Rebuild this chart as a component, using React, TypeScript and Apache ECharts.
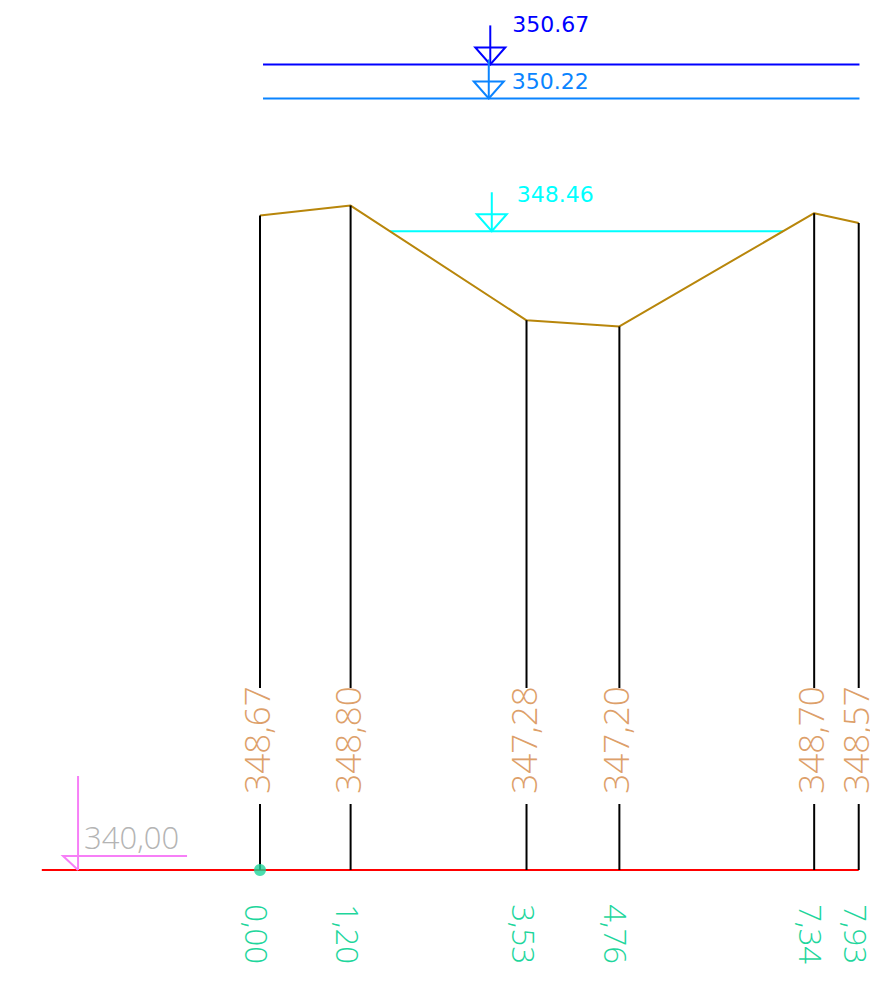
import React, { useEffect, useRef } from "react";
import * as echarts from "echarts";

// ---- Data ----
const stations = [0.0, 1.2, 3.53, 4.76, 7.34, 7.93];
const groundElevations = [348.67, 348.8, 347.28, 347.2, 348.7, 348.57];
const stationLabels = ["0,00", "1,20", "3,53", "4,76", "7,34", "7,93"];
const elevationLabels = ["348,67", "348,80", "347,28", "347,20", "348,70", "348,57"];

const datumElevation = 340.0;
const datumLabel = "340,00";
const datumStart = -2.89;
const datumSymbolStation = -2.41;

const waterLevels = [350.67, 350.22, 348.46];
const waterLabels = ["350.67", "350.22", "348.46"];
const waterColors = ["#0000ff", "#0a84ff", "#00ffff"];
const waterSymbolStations = [3.05, 3.03, 3.07];
const waterLineFrom = [0.04, 0.04];
const waterLineTo = [7.94, 7.94];

// ---- Layout constants (pixels) ----
const W = 870;
const H = 981;
const PX_PER_M = 75.5;
const ORIGIN_X = 260; // station 0 at this px
const DATUM_Y = 870; // datum elevation at this px

// intersection of a level with the ground polyline
function crossings(level: number): number[] {
  const xs: number[] = [];
  for (let i = 0; i < stations.length - 1; i++) {
    const e1 = groundElevations[i], e2 = groundElevations[i + 1];
    if ((e1 - level) * (e2 - level) < 0) {
      const t = (level - e1) / (e2 - e1);
      xs.push(stations[i] + t * (stations[i + 1] - stations[i]));
    }
  }
  return xs;
}

const ELEV_FONT = "300 35px 'Open Sans', 'DejaVu Sans', sans-serif";
const STATION_FONT = "300 31px 'Open Sans', 'DejaVu Sans', sans-serif";
const WATER_FONT = "22px 'DejaVu Sans', sans-serif";
const waterLabelOffsets = [
  [22, -40],
  [23, -17],
  [25, -37],
];

export default function App() {
  const ref = useRef<HTMLDivElement>(null);
  useEffect(() => {
    if (!ref.current) return;
    const chart = echarts.init(ref.current, undefined, { renderer: "svg" });

    const cyan = crossings(waterLevels[2]);

    const waterLineSeries = waterLevels.map((lv, i) => {
      const from = i < 2 ? waterLineFrom[i] : cyan[0];
      const to = i < 2 ? waterLineTo[i] : cyan[cyan.length - 1];
      return {
        type: "line",
        data: [
          [from, lv],
          [to, lv],
        ],
        symbol: "none",
        lineStyle: { color: waterColors[i], width: 2 },
        silent: true,
        z: 2,
      };
    });

    const option: any = {
      animation: false,
      backgroundColor: "#ffffff",
      grid: { left: 0, top: 0, width: W, height: H },
      xAxis: {
        type: "value",
        min: -ORIGIN_X / PX_PER_M,
        max: (W - ORIGIN_X) / PX_PER_M,
        show: false,
      },
      yAxis: {
        type: "value",
        min: datumElevation - (H - DATUM_Y) / PX_PER_M,
        max: datumElevation + DATUM_Y / PX_PER_M,
        show: false,
      },
      series: [
        {
          type: "line",
          name: "datum",
          data: [
            [datumStart, datumElevation],
            [stations[stations.length - 1], datumElevation],
          ],
          symbol: "none",
          lineStyle: { color: "#ff0000", width: 2 },
          z: 3,
        },
        {
          type: "line",
          name: "ground",
          data: stations.map((s, i) => [s, groundElevations[i]]),
          symbol: "none",
          lineStyle: { color: "#b8860b", width: 2 },
          z: 3,
        },
        ...waterLineSeries,
        {
          type: "custom",
          name: "verticals",
          data: stations.map((s, i) => [s, groundElevations[i], i]),
          z: 4,
          renderItem: (params: any, api: any) => {
            const s = api.value(0);
            const e = api.value(1);
            const i = api.value(2);
            const top = api.coord([s, e]);
            const base = api.coord([s, datumElevation]);
            const x = base[0];
            const yb = base[1];
            return {
              type: "group",
              children: [
                {
                  type: "line",
                  shape: { x1: x, y1: top[1], x2: x, y2: yb - 182 },
                  style: { stroke: "#000000", lineWidth: 2 },
                },
                {
                  type: "line",
                  shape: { x1: x, y1: yb - 66, x2: x, y2: yb },
                  style: { stroke: "#000000", lineWidth: 2 },
                },
                {
                  type: "text",
                  x: x - 3.5,
                  y: yb - 130,
                  rotation: Math.PI / 2,
                  style: {
                    text: elevationLabels[i],
                    fill: "#dda06a",
                    font: ELEV_FONT,
                    align: "center",
                    verticalAlign: "middle",
                  },
                },
                {
                  type: "text",
                  x: x - 3,
                  y: yb + 64,
                  rotation: -Math.PI / 2,
                  style: {
                    text: stationLabels[i],
                    fill: "#1ed69c",
                    font: STATION_FONT,
                    align: "center",
                    verticalAlign: "middle",
                  },
                },
              ],
            };
          },
        },
        {
          type: "custom",
          name: "waterSymbols",
          data: waterLevels.map((lv, i) => [waterSymbolStations[i], lv, i]),
          z: 5,
          renderItem: (params: any, api: any) => {
            const i = api.value(2);
            const p = api.coord([api.value(0), api.value(1)]);
            const x = p[0];
            const y = p[1];
            const c = waterColors[i];
            const [dx, dy] = waterLabelOffsets[i];
            return {
              type: "group",
              children: [
                {
                  type: "line",
                  shape: { x1: x, y1: y - 39, x2: x, y2: y },
                  style: { stroke: c, lineWidth: 2 },
                },
                {
                  type: "polygon",
                  shape: {
                    points: [
                      [x - 15, y - 17],
                      [x + 15, y - 17],
                      [x, y],
                    ],
                  },
                  style: { stroke: c, lineWidth: 2, fill: "none" },
                },
                {
                  type: "text",
                  x: x + dx,
                  y: y + dy,
                  style: {
                    text: waterLabels[i],
                    fill: c,
                    font: WATER_FONT,
                    align: "left",
                    verticalAlign: "middle",
                  },
                },
              ],
            };
          },
        },
        {
          type: "custom",
          name: "datumSymbol",
          data: [[datumSymbolStation, datumElevation]],
          z: 5,
          renderItem: (params: any, api: any) => {
            const p = api.coord([api.value(0), api.value(1)]);
            const x = p[0];
            const y = p[1];
            const c = "#f77ff7";
            return {
              type: "group",
              children: [
                {
                  type: "line",
                  shape: { x1: x, y1: y - 94, x2: x, y2: y },
                  style: { stroke: c, lineWidth: 2 },
                },
                {
                  type: "polyline",
                  shape: {
                    points: [
                      [x + 109, y - 14],
                      [x - 15, y - 14],
                      [x, y],
                    ],
                  },
                  style: { stroke: c, lineWidth: 2, fill: "none" },
                },
                {
                  type: "text",
                  x: x + 6,
                  y: y - 33,
                  style: {
                    text: datumLabel,
                    fill: "#b4b4b4",
                    font: STATION_FONT,
                    align: "left",
                    verticalAlign: "middle",
                  },
                },
              ],
            };
          },
        },
        {
          type: "scatter",
          name: "origin",
          data: [[stations[0], datumElevation]],
          symbol: "circle",
          symbolSize: 12,
          itemStyle: { color: "#1ed49a" },
          z: 6,
        },
      ],
    };
    chart.setOption(option);
    return () => chart.dispose();
  }, []);

  return (
    <div
      ref={ref}
      style={{ position: "fixed", left: 0, top: 0, width: W, height: H, background: "#fff" }}
    />
  );
}
